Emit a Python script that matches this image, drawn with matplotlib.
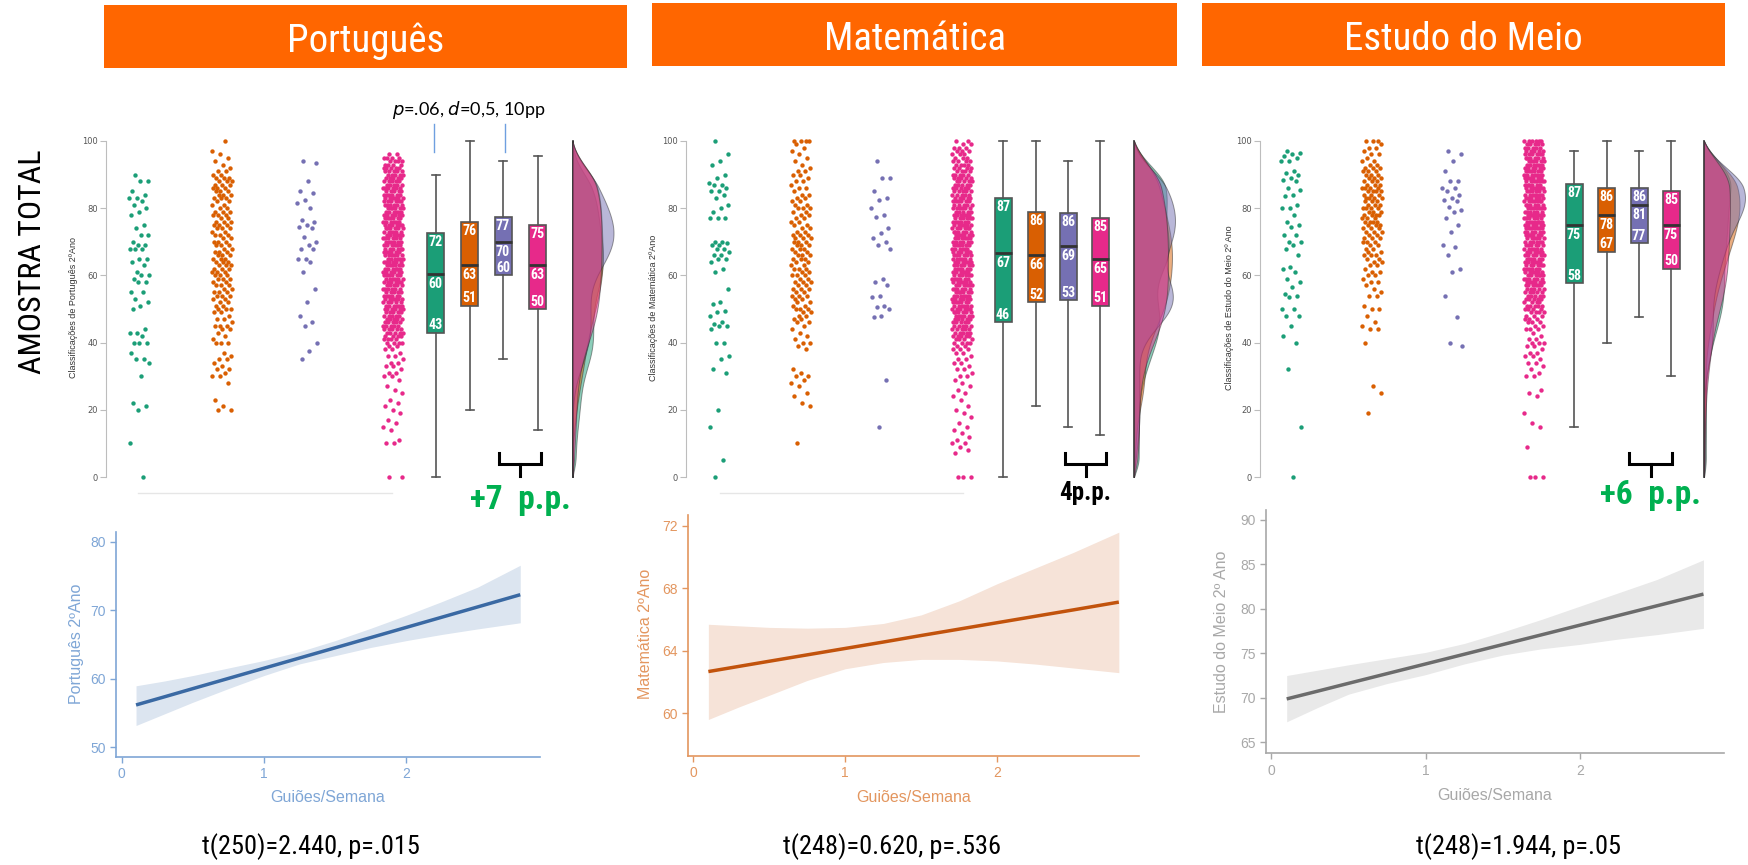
import numpy as np
import matplotlib
matplotlib.use("Agg")
import matplotlib.pyplot as plt
from matplotlib import font_manager
from matplotlib.patches import Rectangle

# ---------------------------------------------------------------- data
subjects = ["Português", "Matemática", "Estudo do Meio"]
group_colors = ["#1B9E77", "#D95F02", "#7570B3", "#E7298A"]

# --- Português: individual grades (sparse groups) and counts per grade 0..100 (dense groups)
pt_green = [90, 88, 88, 85, 84, 83, 83, 82, 81, 80, 79, 78, 75, 74, 72, 72, 70, 69, 69, 68,
            68, 68, 65, 65, 64, 63, 61, 60, 60, 59, 58, 58, 55, 55, 53, 52, 51, 50, 44, 43,
            43, 42, 40, 40, 40, 37, 35, 35, 34, 30, 22, 21, 20, 10, 0]
pt_purple = [94, 93.5, 88, 85, 84.5, 82.5, 81.5, 80, 76.5, 76, 75, 74.5, 74, 71.5, 70, 69,
             68, 68, 65, 65, 64, 61, 56, 52, 48, 46, 45, 40, 37.5, 35]
pt_orange_counts = [0, 0, 0, 0, 0, 0, 0, 0, 0, 0,
                    0, 0, 0, 0, 0, 0, 0, 0, 0, 0,
                    2, 1, 0, 1, 0, 0, 0, 0, 1, 0,
                    2, 1, 2, 1, 1, 2, 1, 1, 0, 0,
                    3, 1, 1, 1, 2, 3, 1, 2, 1, 2,
                    3, 2, 2, 2, 3, 3, 2, 3, 2, 3,
                    3, 3, 3, 3, 3, 3, 3, 3, 2, 3,
                    3, 2, 3, 2, 3, 3, 3, 2, 3, 3,
                    2, 2, 2, 3, 3, 3, 3, 3, 3, 3,
                    2, 2, 1, 1, 1, 1, 1, 1, 0, 0,
                    1]
pt_pink_counts = [2, 0, 0, 0, 0, 0, 0, 0, 0, 0,
                  2, 1, 0, 0, 1, 1, 1, 1, 0, 1,
                  1, 1, 1, 1, 0, 1, 1, 1, 0, 1,
                  2, 2, 1, 2, 2, 1, 2, 1, 2, 2,
                  4, 4, 4, 5, 5, 5, 5, 5, 5, 5,
                  6, 6, 5, 6, 6, 5, 6, 5, 6, 6,
                  6, 6, 6, 6, 6, 6, 6, 6, 6, 6,
                  6, 6, 6, 6, 6, 6, 6, 6, 6, 6,
                  6, 6, 6, 6, 6, 5, 6, 5, 5, 5,
                  5, 5, 5, 4, 4, 4, 2, 0, 0, 0,
                  0]
pt_q1 = [43, 51, 60, 50]
pt_med = [60.4, 63, 70, 63]
pt_q3 = [72.6, 76, 77.5, 75]
pt_whislo = [0, 20, 35, 14]
pt_whishi = [90, 100, 94, 95.5]
pt_box_text = [["72", "60", "43"], ["76", "63", "51"], ["77", "70", "60"], ["75", "63", "50"]]

# --- Matemática
ma_green = [100, 96, 94, 93, 90, 89, 87.5, 87, 87, 86, 85, 85, 84, 83, 81, 80, 79, 77, 77, 77,
            70, 70, 69.5, 69, 69, 68, 68, 67, 66, 66, 65, 65, 64, 62, 61, 56, 52, 51.5, 49.5,
            49, 48, 46, 45.5, 45, 45, 44, 40, 40, 36, 35, 32, 31, 20, 15, 5, 0]
ma_purple = [94, 89, 89, 85, 83, 82.5, 80, 78, 77.5, 74, 72.5, 71, 70, 69, 68, 59, 58, 57,
             54, 53.5, 51, 50.5, 50, 48, 47.5, 29, 15]
ma_orange_counts = [0, 0, 0, 0, 0, 0, 0, 0, 0, 0,
                    1, 0, 0, 0, 0, 0, 0, 0, 0, 0,
                    0, 1, 1, 0, 1, 1, 0, 1, 1, 1,
                    2, 1, 1, 0, 0, 0, 0, 0, 1, 1,
                    2, 1, 1, 1, 1, 1, 2, 2, 2, 2,
                    3, 2, 2, 2, 3, 2, 3, 2, 3, 2,
                    3, 2, 3, 2, 2, 3, 3, 2, 3, 3,
                    3, 3, 3, 2, 2, 2, 2, 2, 2, 2,
                    3, 2, 2, 2, 2, 1, 2, 1, 2, 1,
                    2, 2, 1, 1, 1, 1, 1, 1, 1, 1,
                    4]
ma_pink_counts = [3, 0, 0, 0, 0, 0, 0, 1, 1, 1,
                  2, 1, 1, 1, 1, 1, 1, 0, 1, 1,
                  1, 1, 0, 1, 1, 1, 1, 1, 1, 1,
                  2, 1, 2, 1, 2, 2, 1, 2, 3, 2,
                  4, 4, 5, 5, 5, 5, 5, 5, 6, 6,
                  6, 6, 6, 6, 6, 6, 6, 6, 6, 6,
                  6, 6, 6, 6, 6, 6, 6, 6, 6, 6,
                  6, 6, 6, 6, 6, 6, 6, 6, 6, 5,
                  6, 5, 6, 5, 5, 5, 5, 5, 5, 5,
                  5, 4, 4, 4, 4, 3, 3, 3, 3, 2,
                  2]
ma_q1 = [46, 52, 52.7, 51]
ma_med = [66.7, 66, 68.7, 65]
ma_q3 = [83, 79, 78.5, 77]
ma_whislo = [0, 21, 15, 12.5]
ma_whishi = [100, 100, 94, 100]
ma_box_text = [["87", "67", "46"], ["86", "66", "52"], ["86", "69", "53"], ["85", "65", "51"]]

# --- Estudo do Meio
es_green = [97, 96.5, 96, 95.5, 95, 94, 94, 91, 90.5, 90, 89, 88.5, 88, 86, 85.5, 84, 83.5,
            81, 80, 80, 78, 76, 75, 74.5, 72, 72, 70, 70, 69, 68, 66, 62.5, 62, 61, 59, 58,
            56.5, 54.5, 54, 53.5, 50, 50, 48, 48, 45, 42, 40, 32, 15, 0]
es_purple = [97, 96, 94, 91, 88, 88, 86, 86, 85, 84, 83, 82.5, 82, 80.5, 79.5, 79, 77, 75,
             73, 69, 68.5, 66, 62, 61, 54, 47.5, 40, 39]
es_orange_counts = [0, 0, 0, 0, 0, 0, 0, 0, 0, 0,
                    0, 0, 0, 0, 0, 0, 0, 0, 0, 1,
                    0, 0, 0, 0, 0, 1, 0, 1, 0, 0,
                    0, 0, 0, 0, 0, 0, 0, 0, 0, 0,
                    1, 0, 0, 0, 2, 1, 1, 0, 1, 0,
                    2, 1, 0, 0, 2, 1, 1, 1, 2, 1,
                    2, 2, 1, 2, 2, 2, 3, 2, 2, 2,
                    3, 3, 2, 3, 3, 3, 4, 3, 4, 3,
                    4, 3, 3, 4, 3, 4, 4, 3, 3, 3,
                    3, 3, 3, 2, 2, 1, 2, 1, 2, 1,
                    3]
es_pink_counts = [3, 0, 0, 0, 0, 0, 0, 0, 0, 1,
                  0, 0, 0, 0, 0, 1, 1, 0, 0, 1,
                  0, 0, 0, 0, 1, 1, 1, 0, 0, 0,
                  2, 1, 1, 1, 2, 1, 2, 2, 1, 2,
                  3, 2, 1, 1, 3, 2, 3, 3, 3, 4,
                  4, 5, 4, 5, 5, 5, 5, 6, 6, 6,
                  6, 6, 6, 6, 6, 6, 6, 6, 6, 6,
                  6, 6, 6, 6, 7, 6, 7, 6, 7, 6,
                  7, 6, 7, 6, 7, 6, 7, 6, 7, 6,
                  7, 6, 6, 6, 6, 6, 6, 5, 5, 5,
                  6]
es_q1 = [57.6, 67, 69.5, 62]
es_med = [75, 78, 81, 75]
es_q3 = [87.2, 86, 86, 85]
es_whislo = [15, 40, 47.5, 30]
es_whishi = [97, 100, 97, 100]
es_box_text = [["87", "75", "58"], ["86", "78", "67"], ["86", "81", "77"], ["85", "75", "50"]]

# --- regression (Guiões/Semana) fitted line and confidence band
reg_x = [0.1, 0.3, 0.5, 0.75, 1.0, 1.25, 1.5, 1.75, 2.0, 2.25, 2.5, 2.8]
pt_fit = [56.2, 57.39, 58.59, 60.08, 61.57, 63.06, 64.55, 66.04, 67.53, 69.02, 70.51, 72.3]
pt_hi = [59.0, 59.7, 60.5, 61.6, 62.7, 64.0, 65.6, 67.4, 69.3, 71.3, 73.4, 76.6]
pt_lo = [53.2, 54.9, 56.6, 58.6, 60.5, 62.2, 63.4, 64.6, 65.6, 66.5, 67.3, 68.2]
ma_fit = [62.67, 63.0, 63.33, 63.74, 64.15, 64.56, 64.98, 65.39, 65.8, 66.21, 66.62, 67.12]
ma_hi = [65.7, 65.6, 65.5, 65.45, 65.5, 65.75, 66.3, 67.2, 68.3, 69.3, 70.3, 71.6]
ma_lo = [59.6, 60.4, 61.15, 62.1, 62.85, 63.25, 63.45, 63.45, 63.35, 63.15, 62.9, 62.6]
es_fit = [69.87, 70.74, 71.62, 72.71, 73.8, 74.89, 75.98, 77.07, 78.16, 79.25, 80.34, 81.65]
es_hi = [72.5, 73.1, 73.7, 74.4, 75.1, 76.1, 77.4, 78.8, 80.3, 81.8, 83.3, 85.5]
es_lo = [67.3, 68.9, 70.4, 71.6, 72.6, 73.8, 74.8, 75.5, 76.0, 76.6, 77.1, 77.8]
pt_yticks = [50, 60, 70, 80]
ma_yticks = [60, 64, 68, 72]
es_yticks = [65, 70, 75, 80, 85, 90]
reg_xticks = [0, 1, 2]
stat_texts = ["t(250)=2.440, p=.015", "t(248)=0.620, p=.536", "t(248)=1.944, p=.05"]
diff_texts = ["+7  p.p.", "4p.p.", "+6  p.p."]

# ---------------------------------------------------------------- fonts
avail = {f.name for f in font_manager.fontManager.ttflist}
COND = None
for nm in ["Roboto Condensed", "Liberation Sans Narrow", "Open Sans Condensed",
           "Noto Sans Condensed", "DejaVu Sans Condensed"]:
    if nm in avail:
        COND = dict(family=nm)
        break
if COND is None:
    if any(f.name == "DejaVu Sans" and str(f.stretch) == "condensed"
           for f in font_manager.fontManager.ttflist):
        COND = dict(family="DejaVu Sans", stretch="condensed")
    else:
        COND = dict(family="DejaVu Sans")
ARIAL = dict(family="Liberation Sans")

# ---------------------------------------------------------------- figure
W, H = 1748, 865
fig = plt.figure(figsize=(W / 100, H / 100), dpi=100)


def rect(l, t, r, b):
    return [l / W, 1 - b / H, (r - l) / W, (b - t) / H]


def ftext(x, y, s, **kw):
    return fig.text(x / W, 1 - y / H, s, **kw)


# header bars
for (l, t, r, b), name in zip([(104, 5, 627, 68), (652, 3, 1177, 66), (1202, 3, 1725, 66)], subjects):
    fig.add_artist(Rectangle((l / W, 1 - b / H), (r - l) / W, (b - t) / H,
                             transform=fig.transFigure, color="#FF6600", lw=0))
    ftext((l + r) / 2, b - 16, name, ha="center", va="baseline", color="white",
          fontsize=28, **COND)

ftext(33, 262, "AMOSTRA TOTAL", rotation=90, ha="center", va="center",
      fontsize=23, color="black", **COND)

# ---------------------------------------------------------------- top panels
Y0, Y100 = 477, 141
PXU = (Y0 - Y100) / 100.0
YMIN, YMAX = -6, 104


def jitter(n, half):
    k = np.arange(n)
    return ((k * 0.6180339887498949 + 0.31) % 1.0 - 0.5) * 2 * half


def counts_to_values(counts):
    return np.repeat(np.arange(len(counts)), counts).astype(float)


def kde(vals, grid, bw=7.0):
    v = np.asarray(vals, float)[:, None]
    d = np.exp(-0.5 * ((grid[None, :] - v) / bw) ** 2).sum(0)
    return d / (len(v) * bw * np.sqrt(2 * np.pi))


layouts = [
    dict(left=106, right=620, dots=[33, 116, 201, 287], boxes=[329.5, 363.5, 397, 431.5],
         dens=466.5, bracket=(393, 435), floor=(32, 286), lab_x=73.6),
    dict(left=686, right=1180, dots=[33, 115, 195, 276], boxes=[317, 350, 382, 414],
         dens=448, bracket=(379, 420), floor=(34, 277), lab_x=653.6),
    dict(left=1260, right=1748, dots=[31, 112, 192, 274], boxes=[314, 346.5, 379, 411],
         dens=444, bracket=(369, 412), floor=None, lab_x=1229),
]
point_sets = [
    [pt_green, counts_to_values(pt_orange_counts), pt_purple, counts_to_values(pt_pink_counts)],
    [ma_green, counts_to_values(ma_orange_counts), ma_purple, counts_to_values(ma_pink_counts)],
    [es_green, counts_to_values(es_orange_counts), es_purple, counts_to_values(es_pink_counts)],
]
box_stats = [
    (pt_q1, pt_med, pt_q3, pt_whislo, pt_whishi, pt_box_text),
    (ma_q1, ma_med, ma_q3, ma_whislo, ma_whishi, ma_box_text),
    (es_q1, es_med, es_q3, es_whislo, es_whishi, es_box_text),
]
top_ylabels = ["Classificações de Português 2ºAno", "Classificações de Matemática 2ºAno",
               "Classificações de Estudo do Meio 2º Ano"]

top_axes = []
for lay, pts, bs, ylab in zip(layouts, point_sets, box_stats, top_ylabels):
    top = Y100 - (YMAX - 100) * PXU
    bot = Y0 + (0 - YMIN) * PXU
    ax = fig.add_axes(rect(lay["left"], top, lay["right"], bot))
    ax.set_xlim(0, lay["right"] - lay["left"])
    ax.set_ylim(YMIN, YMAX)
    top_axes.append(ax)
    for s in ["top", "right", "bottom"]:
        ax.spines[s].set_visible(False)
    ax.spines["left"].set_bounds(0, 100)
    ax.spines["left"].set_color("#BDBDBD")
    ax.spines["left"].set_linewidth(0.8)
    ax.set_xticks([])
    ax.set_yticks([0, 20, 40, 60, 80, 100])
    ax.tick_params(axis="y", colors="#BDBDBD", labelcolor="#555555", labelsize=6,
                   length=4, width=0.8, pad=2)
    ax.patch.set_alpha(0)
    ftext(lay["lab_x"], 308, ylab, rotation=90, ha="center", va="center",
          fontsize=6.5, color="#333333", **ARIAL)

    # floor line under the dots
    if lay["floor"] is not None:
        ax.plot(lay["floor"], [-4.8, -4.8], color="#E6E6E6", lw=1, clip_on=False)

    # jittered dots
    for i, vals in enumerate(pts):
        vals = np.asarray(vals, float)
        xs = lay["dots"][i] + jitter(len(vals), 10)
        ax.scatter(xs, vals, s=10, color=group_colors[i], lw=0, clip_on=False, zorder=3)

    # box plots
    q1, med, q3, wlo, whi, btxt = bs
    stats = [dict(q1=q1[i], med=med[i], q3=q3[i], whislo=wlo[i], whishi=whi[i], fliers=[])
             for i in range(4)]
    res = ax.bxp(stats, positions=lay["boxes"], widths=17, patch_artist=True,
                 showfliers=False, manage_ticks=False, capwidths=8,
                 boxprops=dict(edgecolor="#555555", linewidth=1.2),
                 medianprops=dict(color="#333333", linewidth=2),
                 whiskerprops=dict(color="#555555", linewidth=1.2),
                 capprops=dict(color="#555555", linewidth=1.2))
    for patch, c in zip(res["boxes"], group_colors):
        patch.set_facecolor(c)
    for i in range(4):
        x = lay["boxes"][i]
        tq, tm, tb = btxt[i]
        kw = dict(ha="center", va="center", color="white", fontsize=10,
                  fontweight="bold", zorder=5, **COND)
        ax.text(x, q3[i] - 2.7, tq, **kw)
        ax.text(x, med[i] - 3.0, tm, **kw)
        ax.text(x, q1[i] + 2.2, tb, **kw)

    # half-violin densities, tapered to the baseline at both ends
    grid = np.linspace(0, 100, 401)
    taper = (np.sin(np.clip((100 - grid) / 14, 0, 1) * np.pi / 2)
             * np.sin(np.clip(grid / 6, 0, 1) * np.pi / 2))
    dens = [kde(v, grid) * taper for v in pts]
    scale = 41.0 / max(d.max() for d in dens)
    base = lay["dens"]
    ax.plot([base, base], [0, 100], color="#444444", lw=1.3, zorder=2)
    for d, c in zip(dens, group_colors):
        ax.fill_betweenx(grid, base, base + d * scale, facecolor=c, alpha=0.5,
                         edgecolor="#333333", lw=0.7, zorder=3)

    # bracket
    b1, b2 = lay["bracket"]
    ax.plot([b1, b1, b2, b2], [7.1, 3.8, 3.8, 7.1], color="black", lw=2.2,
            clip_on=False, solid_joinstyle="miter")
    ax.plot([(b1 + b2) / 2, (b1 + b2) / 2], [3.8, 0.3], color="black", lw=2.2, clip_on=False)

# blue markers and annotation on Português
axp = top_axes[0]
for xb in [328, 399]:
    axp.plot([xb, xb], [96.7, 105.1], color="#6F9FE0", lw=1, clip_on=False)
ftext(469, 110, r"$p$=.06, $d$=0,5, 10pp", ha="center", va="center", fontsize=13,
      color="black", family="Lato")

ftext(520, 509, diff_texts[0], ha="center", va="baseline", fontsize=24, color="#00B050",
      fontweight="bold", **COND)
ftext(1085, 500, diff_texts[1], ha="center", va="baseline", fontsize=18, color="black",
      fontweight="bold", **COND)
ftext(1650, 504, diff_texts[2], ha="center", va="baseline", fontsize=24, color="#00B050",
      fontweight="bold", **COND)

# ---------------------------------------------------------------- regression panels
reg_specs = [
    dict(px=(116.4, 531.7, 539.6, 757), xlim=(-0.038, 2.936), ylim=(48.6, 81.5),
         yticks=pt_yticks, fit=pt_fit, lo=pt_lo, hi=pt_hi,
         line="#3A69A3", band="#DCE5F0", axis="#7FA6D6", ylabel="Português 2ºAno",
         ylab_pos=(76, 644), xlab_pos=(328, 797), stat_pos=(311, 847)),
    dict(px=(688, 515, 1138.6, 756), xlim=(-0.034, 2.93), ylim=(57.26, 72.7),
         yticks=ma_yticks, fit=ma_fit, lo=ma_lo, hi=ma_hi,
         line="#C2530C", band="#F6E3D8", axis="#E3965F", ylabel="Matemática 2ºAno",
         ylab_pos=(645, 634), xlab_pos=(914, 797), stat_pos=(892, 847)),
    dict(px=(1266, 510, 1723.5, 753.3), xlim=(-0.034, 2.93), ylim=(63.76, 91.1),
         yticks=es_yticks, fit=es_fit, lo=es_lo, hi=es_hi,
         line="#6B6B6B", band="#E9E9E9", axis="#A8A8A8", ylabel="Estudo do Meio 2º Ano",
         ylab_pos=(1222, 632), xlab_pos=(1495, 795), stat_pos=(1519, 847)),
]
for spec, stat in zip(reg_specs, stat_texts):
    ax = fig.add_axes(rect(*spec["px"]))
    ax.fill_between(reg_x, spec["lo"], spec["hi"], color=spec["band"], lw=0)
    ax.plot(reg_x, spec["fit"], color=spec["line"], lw=2.5, solid_capstyle="butt")
    ax.set_xlim(*spec["xlim"])
    ax.set_ylim(*spec["ylim"])
    ax.set_xticks(reg_xticks)
    ax.set_yticks(spec["yticks"])
    for s in ["top", "right"]:
        ax.spines[s].set_visible(False)
    for s in ["left", "bottom"]:
        ax.spines[s].set_color(spec["axis"])
        ax.spines[s].set_linewidth(1.2)
    ax.tick_params(colors=spec["axis"], labelcolor=spec["axis"], labelsize=10,
                   length=4, width=1)
    for lab in ax.get_xticklabels() + ax.get_yticklabels():
        lab.set_family("Liberation Sans")
    ftext(*spec["ylab_pos"], spec["ylabel"], rotation=90, ha="center", va="center",
          fontsize=11.5, color=spec["axis"], **ARIAL)
    ftext(*spec["xlab_pos"], "Guiões/Semana", ha="center", va="center",
          fontsize=11.5, color=spec["axis"], **ARIAL)
    ftext(*spec["stat_pos"], stat, ha="center", va="center", fontsize=19,
          color="black", **COND)

fig.savefig("out.png", dpi=100)
